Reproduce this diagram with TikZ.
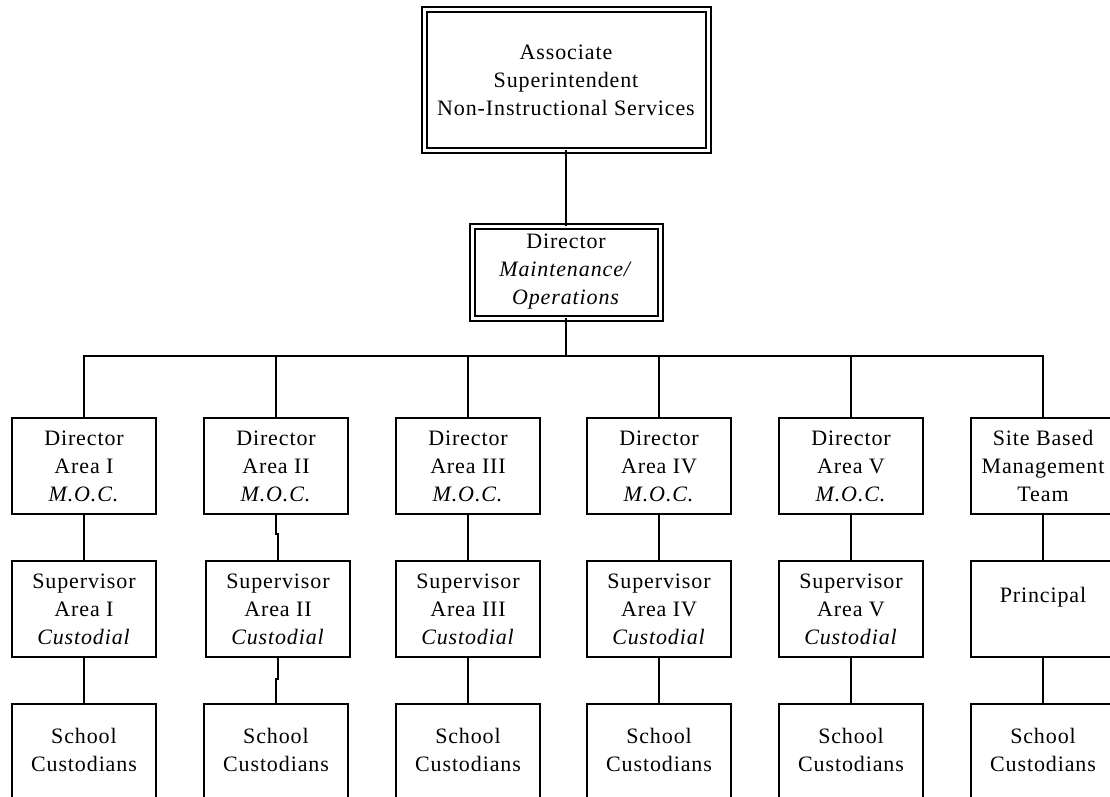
\documentclass[tikz,border=0pt]{standalone}
\usepackage{fontspec}
\setmainfont{Liberation Serif}[LetterSpace=4]
\begin{document}
\begin{tikzpicture}[x=1pt,y=-1pt,
  every node/.style={font=\fontsize{22}{28}\selectfont, align=center, inner sep=0pt, outer sep=0pt},
  unit/.style={draw, line width=2pt, minimum width=144pt, minimum height=96pt},
  staff/.style={draw, line width=2pt, minimum width=144pt, minimum height=130pt, anchor=north,
    label={[anchor=north, yshift=-24pt, align=center]north:School\\Custodians}},
  head/.style={draw, double, line width=2pt, double distance=3pt},
  link/.style={line width=2pt}]
\useasboundingbox (0,0) rectangle (1110,797);
\fill[white] (0,0) rectangle (1110,797);
\clip (0,0) rectangle (1110,797);

% top of the chart
\node[head, minimum width=284pt, minimum height=140pt] (top) at (566,80)
  {Associate\\Superintendent\\Non-Instructional Services};
\node[head, minimum width=188pt, minimum height=92pt] (dir) at (566,272)
  {Director\\\textit{Maintenance/}\\\textit{Operations}};
\coordinate (bus) at (566,356);

% area directors
\node[unit] (d1) at (84,466)   {Director\\Area I\\\textit{M.O.C.}};
\node[unit] (d2) at (276,466)  {Director\\Area II\\\textit{M.O.C.}};
\node[unit] (d3) at (468,466)  {Director\\Area III\\\textit{M.O.C.}};
\node[unit] (d4) at (659,466)  {Director\\Area IV\\\textit{M.O.C.}};
\node[unit] (d5) at (851,466)  {Director\\Area V\\\textit{M.O.C.}};
\node[unit] (d6) at (1043,466) {Site Based\\Management\\Team};

% custodial supervisors
\node[unit] (s1) at (84,609)   {Supervisor\\Area I\\\textit{Custodial}};
\node[unit] (s2) at (278,609)  {Supervisor\\Area II\\\textit{Custodial}};
\node[unit] (s3) at (468,609)  {Supervisor\\Area III\\\textit{Custodial}};
\node[unit] (s4) at (659,609)  {Supervisor\\Area IV\\\textit{Custodial}};
\node[unit] (s5) at (851,609)  {Supervisor\\Area V\\\textit{Custodial}};
\node[unit] (s6) at (1043,609) {Principal\\\mbox{}};

% school custodians
\node[staff] (c1) at (84,704) {};
\node[staff] (c2) at (276,704) {};
\node[staff] (c3) at (468,704) {};
\node[staff] (c4) at (659,704) {};
\node[staff] (c5) at (851,704) {};
\node[staff] (c6) at (1043,704) {};

% connectors
\draw[link] (top.south) -- (dir.north);
\draw[link] (dir.south) -- (bus);
\foreach \k in {1,...,6} { \draw[link] (bus) -| (d\k.north); }
\foreach \k in {1,3,4,5,6} {
  \draw[link] (d\k.south) -- (s\k.north);
  \draw[link] (s\k.south) -- (c\k.north);
}
\draw[link] (d2.south) -- ++(0,20) -| (s2.north);
\draw[link] (s2.south) -- ++(0,22) -| (c2.north);
\end{tikzpicture}
\end{document}
